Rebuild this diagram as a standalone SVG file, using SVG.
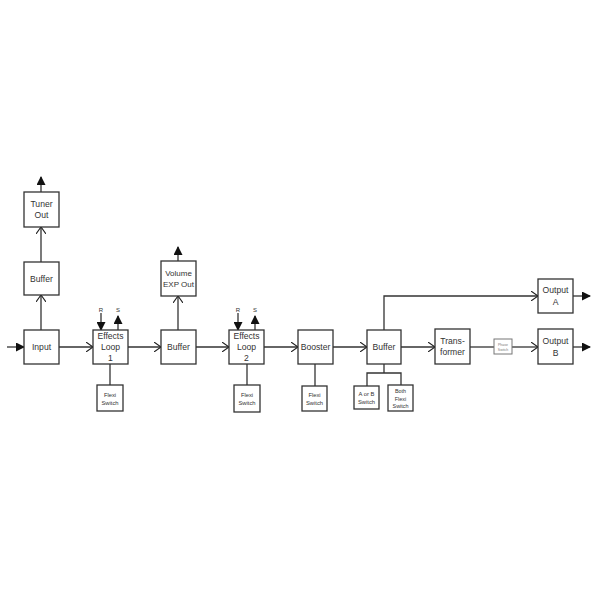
<svg xmlns="http://www.w3.org/2000/svg" width="600" height="600" viewBox="0 0 600 600">
<defs>
<marker id="open" markerWidth="8" markerHeight="10" refX="7" refY="5" orient="auto" markerUnits="userSpaceOnUse">
<path d="M0,0 L7,5 L0,10" fill="none" stroke="#222" stroke-width="1.1"/>
</marker>
<marker id="solid" markerWidth="9" markerHeight="9" refX="8" refY="4.5" orient="auto" markerUnits="userSpaceOnUse">
<path d="M0,0 L9,4.5 L0,9 Z" fill="#111"/>
</marker>
</defs>
<style>
.box{fill:#fff;stroke:#333;stroke-width:1.3}
.ln{fill:none;stroke:#333;stroke-width:1.3}
.t{font-family:"Liberation Sans",Arial,sans-serif;font-size:8.6px;fill:#333;text-anchor:middle}
.tn{font-family:"Liberation Sans",Arial,sans-serif;font-size:8px;fill:#333;text-anchor:middle}
.s{font-family:"Liberation Sans",Arial,sans-serif;font-size:5.8px;fill:#333;text-anchor:middle}
.s2{font-family:"Liberation Sans",Arial,sans-serif;font-size:5.4px;fill:#333;text-anchor:middle}
.p{font-family:"Liberation Sans",Arial,sans-serif;font-size:3.5px;fill:#777;text-anchor:middle}
.rs{font-family:"Liberation Sans",Arial,sans-serif;font-size:6px;fill:#333;text-anchor:middle}
</style>
<rect width="600" height="600" fill="#fff"/>
<g id="connectors">
<line class="ln" x1="7" y1="347" x2="24" y2="347" marker-end="url(#solid)"/>
<line class="ln" x1="59" y1="347" x2="93" y2="347" marker-end="url(#open)"/>
<line class="ln" x1="41" y1="330" x2="41" y2="295" marker-end="url(#open)"/>
<line class="ln" x1="41" y1="262" x2="41" y2="227" marker-end="url(#open)"/>
<line class="ln" x1="41" y1="192" x2="41" y2="177" marker-end="url(#solid)"/>
<line class="ln" x1="101" y1="313" x2="101" y2="330" marker-end="url(#solid)"/>
<line class="ln" x1="118" y1="330" x2="118" y2="316" marker-end="url(#solid)"/>
<line class="ln" x1="110" y1="364" x2="110" y2="385"/>
<line class="ln" x1="128" y1="347" x2="161" y2="347" marker-end="url(#open)"/>
<line class="ln" x1="178" y1="330" x2="178" y2="296" marker-end="url(#open)"/>
<line class="ln" x1="178" y1="261" x2="178" y2="247" marker-end="url(#solid)"/>
<line class="ln" x1="196" y1="347" x2="229" y2="347" marker-end="url(#open)"/>
<line class="ln" x1="238" y1="313" x2="238" y2="330" marker-end="url(#solid)"/>
<line class="ln" x1="255" y1="330" x2="255" y2="316" marker-end="url(#solid)"/>
<line class="ln" x1="247" y1="364" x2="247" y2="385"/>
<line class="ln" x1="264" y1="347" x2="298" y2="347" marker-end="url(#open)"/>
<line class="ln" x1="315" y1="364" x2="315" y2="386"/>
<line class="ln" x1="333" y1="347" x2="367" y2="347" marker-end="url(#open)"/>
<polyline class="ln" points="384,330 384,296 538,296" marker-end="url(#open)"/>
<polyline class="ln" points="384,364 384,373"/>
<polyline class="ln" points="367,386 367,373 401,373 401,385"/>
<line class="ln" x1="401" y1="347" x2="435" y2="347" marker-end="url(#open)"/>
<line class="ln" x1="470" y1="347" x2="494" y2="347"/>
<line class="ln" x1="512" y1="347" x2="538" y2="347" marker-end="url(#open)"/>
<line class="ln" x1="573" y1="296" x2="590" y2="296" marker-end="url(#solid)"/>
<line class="ln" x1="573" y1="347" x2="590" y2="347" marker-end="url(#solid)"/>
</g>
<g id="input"><rect class="box" x="24" y="330" width="35" height="34"/><text class="t" x="41.5" y="350">Input</text></g>
<g id="buffer1"><rect class="box" x="24" y="262" width="35" height="33"/><text class="t" x="41.5" y="281.5">Buffer</text></g>
<g id="tuner"><rect class="box" x="24" y="192" width="35" height="35"/><text class="t" x="41.5" y="207">Tuner</text><text class="t" x="41.5" y="218">Out</text></g>
<g id="loop1"><rect class="box" x="93" y="330" width="35" height="34"/><text class="t" x="110.5" y="339">Effects</text><text class="t" x="110.5" y="350">Loop</text><text class="t" x="110.5" y="361">1</text>
<text class="rs" x="101" y="312">R</text><text class="rs" x="118" y="312">S</text></g>
<g id="flexi1"><rect class="box" x="97" y="385" width="26" height="26"/><text class="s" x="110" y="397">Flexi</text><text class="s" x="110" y="405">Switch</text></g>
<g id="buffer2"><rect class="box" x="161" y="330" width="35" height="34"/><text class="t" x="178.5" y="350">Buffer</text></g>
<g id="volume"><rect class="box" x="161" y="261" width="35" height="35"/><text class="tn" x="178.5" y="276">Volume</text><text class="tn" x="178.5" y="287">EXP Out</text></g>
<g id="loop2"><rect class="box" x="229" y="330" width="35" height="34"/><text class="t" x="246.5" y="339">Effects</text><text class="t" x="246.5" y="350">Loop</text><text class="t" x="246.5" y="361">2</text>
<text class="rs" x="238" y="312">R</text><text class="rs" x="255" y="312">S</text></g>
<g id="flexi2"><rect class="box" x="234" y="385" width="26" height="27"/><text class="s" x="247" y="397">Flexi</text><text class="s" x="247" y="405">Switch</text></g>
<g id="booster"><rect class="box" x="298" y="330" width="35" height="34"/><text class="t" x="315.5" y="350">Booster</text></g>
<g id="flexi3"><rect class="box" x="302" y="386" width="25" height="25"/><text class="s" x="314.5" y="397">Flexi</text><text class="s" x="314.5" y="405">Switch</text></g>
<g id="buffer3"><rect class="box" x="367" y="330" width="34" height="34"/><text class="t" x="384" y="350">Buffer</text></g>
<g id="aorb"><rect class="box" x="354" y="386" width="25" height="23"/><text class="s" x="366.5" y="396">A or B</text><text class="s" x="366.5" y="404">Switch</text></g>
<g id="both"><rect class="box" x="388" y="385" width="25" height="26"/><text class="s2" x="400.5" y="393">Both</text><text class="s2" x="400.5" y="400.5">Flexi</text><text class="s2" x="400.5" y="408">Switch</text></g>
<g id="transformer"><rect class="box" x="435" y="329" width="35" height="35"/><text class="t" x="452.5" y="344">Trans-</text><text class="t" x="452.5" y="355">former</text></g>
<g id="phase"><rect x="494" y="339" width="18" height="15" fill="#fff" stroke="#777" stroke-width="1"/><text class="p" x="503" y="345.5">Phase</text><text class="p" x="503" y="350.5">Switch</text></g>
<g id="outA"><rect class="box" x="538" y="279" width="35" height="34"/><text class="t" x="555.5" y="293">Output</text><text class="t" x="555.5" y="305">A</text></g>
<g id="outB"><rect class="box" x="538" y="329" width="35" height="35"/><text class="t" x="555.5" y="344">Output</text><text class="t" x="555.5" y="356">B</text></g>
</svg>
